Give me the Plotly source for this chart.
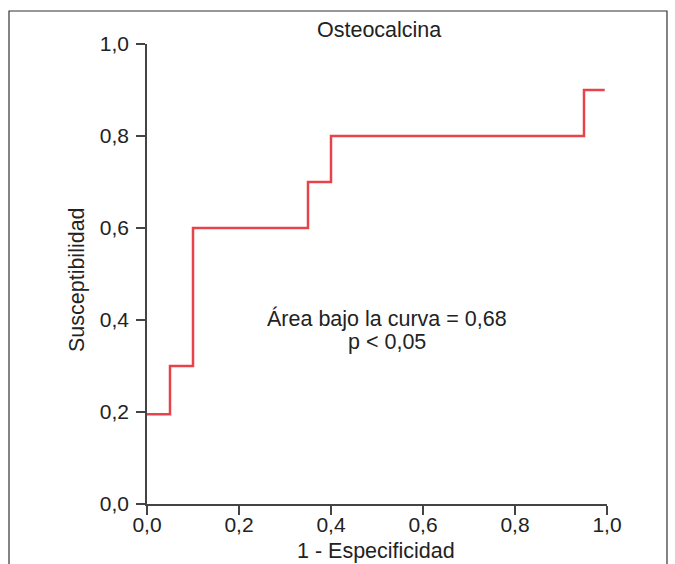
import plotly.graph_objects as go

# ROC step data (1 - specificity, sensitivity)
fpr = [0.0, 0.05, 0.05, 0.10, 0.10, 0.35, 0.35, 0.40, 0.40, 0.95, 0.95, 0.995]
tpr = [0.195, 0.195, 0.30, 0.30, 0.60, 0.60, 0.70, 0.70, 0.80, 0.80, 0.90, 0.90]

tick_vals = [0.0, 0.2, 0.4, 0.6, 0.8, 1.0]
tick_text = ["0,0", "0,2", "0,4", "0,6", "0,8", "1,0"]

title_text = "Osteocalcina"
x_title = "1 - Especificidad"
y_title = "Susceptibilidad"
auc_line1 = "Área bajo la curva = 0,68"
auc_line2 = "p < 0,05"

FONT = "Liberation Sans, Arial, Helvetica, sans-serif"
TXT = "#222222"
AX = "#444444"
TS = 21.5

fig = go.Figure()
fig.add_trace(go.Scatter(x=fpr, y=tpr, mode="lines",
                         line=dict(color="#e8434b", width=2.5),
                         hoverinfo="skip", showlegend=False))

axis_common = dict(range=[0, 1], tickvals=tick_vals, ticktext=tick_text,
                   showgrid=False, zeroline=False, showline=True,
                   linecolor=AX, linewidth=1.5, ticks="outside",
                   ticklen=9, tickwidth=1.5, tickcolor=AX,
                   tickfont=dict(family=FONT, size=21, color=TXT))

fig.update_layout(
    width=675, height=564,
    margin=dict(l=147, r=68, t=44, b=60),
    paper_bgcolor="white", plot_bgcolor="white",
    xaxis=dict(**axis_common, ticklabelstandoff=-8),
    yaxis=dict(**axis_common, ticklabelstandoff=3),
    font=dict(family=FONT, color=TXT),
)

def note(x, y, text, angle=0):
    fig.add_annotation(xref="paper", yref="paper", x=x, y=y,
                       text=text, showarrow=False, textangle=angle,
                       font=dict(family=FONT, size=TS, color=TXT),
                       xanchor="center", yanchor="middle")

note(0.5054, 1.0304, title_text)
note(0.4989, -0.1022, x_title)
note(-0.152, 0.487, y_title, angle=-90)
note(0.5207, 0.4022, auc_line1)
note(0.5207, 0.3522, auc_line2)

# outer frame (top, left, right)
fig.add_shape(type="path", xref="paper", yref="paper",
              path="M -0.3,-0.2 L -0.3,1.0717 L 1.1304,1.0717 L 1.1304,-0.2",
              line=dict(color="#333333", width=1.2))

fig.write_html("out.html")
